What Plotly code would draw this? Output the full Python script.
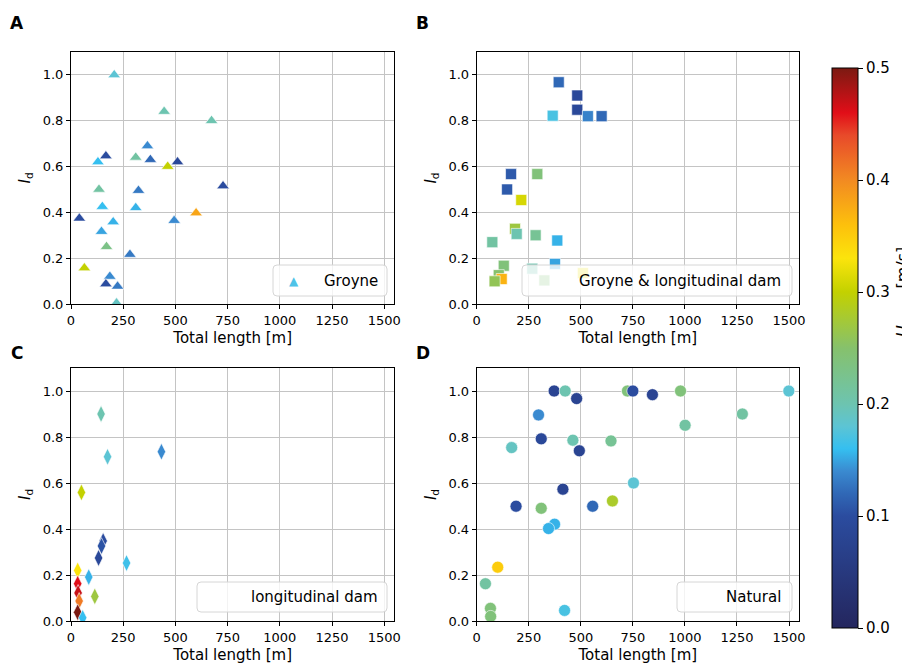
import plotly.graph_objects as go

# ---------------- data ----------------
# Panel A: Groyne
groyne_length = [207, 446, 673, 366, 167, 129, 310, 380, 510, 463, 728, 134, 323, 150, 310,
                 599, 40, 202, 494, 146, 170, 282, 64, 186, 167, 223, 218]
groyne_id = [1.0, 0.84, 0.80, 0.69, 0.646, 0.62, 0.64, 0.63, 0.62, 0.60, 0.515, 0.50, 0.495, 0.425,
             0.42, 0.397, 0.374, 0.358, 0.364, 0.316, 0.25, 0.216, 0.157, 0.12, 0.087, 0.077, 0.004]
groyne_u = [0.18, 0.2, 0.2, 0.14, 0.1, 0.16, 0.21, 0.12, 0.09, 0.3, 0.1, 0.21, 0.13, 0.16, 0.155,
            0.38, 0.1, 0.155, 0.14, 0.15, 0.23, 0.13, 0.3, 0.14, 0.1, 0.13, 0.19]

# Panel B: Groyne & longitudinal dam
gl_length = [394, 483, 483, 365, 534, 600, 165, 291, 146, 214, 184, 192, 283, 387, 75, 376,
             130, 267, 106, 120, 86, 325, 510]
gl_id = [0.968, 0.91, 0.848, 0.822, 0.82, 0.82, 0.567, 0.567, 0.50, 0.454, 0.328, 0.306, 0.30,
         0.277, 0.27, 0.175, 0.167, 0.154, 0.126, 0.109, 0.099, 0.103, 0.135]
gl_u = [0.12, 0.09, 0.09, 0.17, 0.135, 0.12, 0.11, 0.24, 0.11, 0.31, 0.27, 0.2, 0.22, 0.155,
        0.21, 0.15, 0.24, 0.2, 0.25, 0.37, 0.26, 0.24, 0.32]

# Panel C: longitudinal dam
ld_length = [144, 433, 175, 50, 154, 146, 132, 266, 32, 85, 32, 34, 114, 39, 32, 56]
ld_id = [0.90, 0.736, 0.714, 0.559, 0.348, 0.326, 0.274, 0.252, 0.22, 0.191, 0.162, 0.122,
         0.107, 0.087, 0.038, 0.014]
ld_u = [0.2, 0.14, 0.18, 0.3, 0.1, 0.105, 0.09, 0.165, 0.33, 0.155, 0.46, 0.47, 0.27, 0.41,
        0.5, 0.16]

# Panel D: Natural
nat_length = [372, 425, 480, 724, 750, 844, 979, 1499, 297, 1276, 1001, 310, 462, 645, 168,
              493, 753, 414, 652, 189, 310, 557, 374, 345, 101, 42, 66, 67, 422]
nat_id = [1.0, 1.0, 0.967, 1.0, 1.0, 0.984, 1.0, 1.0, 0.896, 0.90, 0.851, 0.792, 0.786, 0.783,
          0.754, 0.74, 0.60, 0.573, 0.522, 0.499, 0.49, 0.499, 0.421, 0.402, 0.234, 0.162,
          0.055, 0.02, 0.046]
nat_u = [0.08, 0.2, 0.08, 0.24, 0.1, 0.08, 0.24, 0.18, 0.14, 0.21, 0.21, 0.09, 0.2, 0.22, 0.19,
         0.08, 0.18, 0.08, 0.28, 0.1, 0.24, 0.12, 0.155, 0.155, 0.35, 0.21, 0.24, 0.24, 0.17]

panel_names = ["Groyne", "Groyne & longitudinal dam", "longitudinal dam", "Natural"]
panel_letters = ["A", "B", "C", "D"]
x_ticks = [0, 250, 500, 750, 1000, 1250, 1500]
y_ticks = [0.0, 0.2, 0.4, 0.6, 0.8, 1.0]
cbar_ticks = [0.0, 0.1, 0.2, 0.3, 0.4, 0.5]
cbar_title = "<i>U</i><sub>mean</sub> [m/s]"

# ---------------- style ----------------
W, H = 910, 666
OFF = 8  # page body margin offset of the figure in the browser window
FONT = "DejaVu Sans"
colorscale = [
    [0.00, "#24265e"], [0.20, "#2b4c9f"], [0.24, "#3068b6"], [0.28, "#3a8ad0"],
    [0.32, "#35bff0"], [0.36, "#5cc4d4"], [0.40, "#6dc4b0"], [0.50, "#86c16c"],
    [0.60, "#c3d100"], [0.66, "#fbe40c"], [0.72, "#fdc00c"], [0.80, "#f28a22"],
    [0.88, "#e84a2a"], [0.92, "#e10e18"], [1.00, "#7b1a12"],
]

def px(x):
    return (x - OFF) / W

def py(y):
    return 1 - (y - OFF) / H

# axes boxes in window pixels: (left, right, top, bottom)
boxes = [(71, 394.3, 52, 304), (476.7, 799, 52, 304),
         (71, 394.3, 368, 621), (476.7, 799, 368, 621)]

fig = go.Figure()
datasets = [(groyne_length, groyne_id, groyne_u, "triangle-up", 11),
            (gl_length, gl_id, gl_u, "square", 11),
            (ld_length, ld_id, ld_u, "diamond-tall", 12),
            (nat_length, nat_id, nat_u, "circle", 12)]

for i, (xs, ys, us, sym, sz) in enumerate(datasets):
    sfx = "" if i == 0 else str(i + 1)
    fig.add_trace(go.Scatter(
        x=xs, y=ys, mode="markers", name=panel_names[i], showlegend=False,
        xaxis="x" + sfx, yaxis="y" + sfx, cliponaxis=True,
        marker=dict(symbol=sym, size=sz, color=us, coloraxis="coloraxis",
                    line=dict(color="white", width=0.6)),
    ))

layout = dict(
    width=W, height=H, margin=dict(l=0, r=0, t=0, b=0, autoexpand=False),
    paper_bgcolor="white", plot_bgcolor="white",
    font=dict(family=FONT, color="black"),
    showlegend=False,
    coloraxis=dict(
        cmin=0, cmax=0.5, colorscale=colorscale,
        colorbar=dict(
            x=px(832), xanchor="left", xpad=0,
            y=py(628), yanchor="bottom", ypad=0,
            len=560, lenmode="pixels", thickness=26, thicknessmode="pixels",
            outlinewidth=1, outlinecolor="black",
            ticks="outside", ticklen=5, tickcolor="black",
            tickvals=cbar_ticks, tickformat=".1f",
            tickfont=dict(family=FONT, size=15, color="black"),
        ),
    ),
)

annotations = []
shapes = []
for i, (l, r, t, b) in enumerate(boxes):
    sfx = "" if i == 0 else str(i + 1)
    layout["xaxis" + sfx] = dict(
        domain=[px(l), px(r)], anchor="y" + sfx, range=[0, 1548],
        tickvals=x_ticks, ticks="outside", ticklen=4, tickcolor="black",
        showline=True, mirror=True, linecolor="black", linewidth=1,
        showgrid=True, gridcolor="#c4c4c4", gridwidth=1, zeroline=False,
        tickfont=dict(family=FONT, size=13, color="black"),
        title=dict(text="Total length [m]", standoff=5,
                   font=dict(family=FONT, size=15, color="black")),
        automargin=False,
    )
    layout["yaxis" + sfx] = dict(
        domain=[py(b), py(t)], anchor="x" + sfx, range=[0, 1.1],
        tickvals=y_ticks, tickformat=".1f", ticks="outside", ticklen=4, tickcolor="black",
        showline=True, mirror=True, linecolor="black", linewidth=1,
        showgrid=True, gridcolor="#c4c4c4", gridwidth=1, zeroline=False,
        tickfont=dict(family=FONT, size=13, color="black"),
        title=dict(text="<i>I</i><sub>d</sub>", standoff=8,
                   font=dict(family=FONT, size=15, color="black")),
        automargin=False,
    )
    # panel letter
    annotations.append(dict(
        text="<b>%s</b>" % panel_letters[i], xref="paper", yref="paper",
        x=px(l - 54), y=py(t - 29) if i < 2 else py(t - 15),
        xanchor="center", yanchor="middle", showarrow=False,
        font=dict(family=FONT, size=17, color="black"),
    ))

# colorbar title (rotated, partly beyond the right edge as in the reference)
annotations.append(dict(
    text=cbar_title, xref="paper", yref="paper", x=px(904), y=py(292),
    xanchor="center", yanchor="middle", textangle=-90, showarrow=False,
    font=dict(family=FONT, size=16, color="black"),
))

# legend boxes (matplotlib-like rounded frames)
legend_boxes = [(273, 387, 265, 296), (522, 792, 265, 296),
                (197, 387, 582, 612), (677, 792, 582, 612)]
legend_text_right = [380, 783, 380, 783]

def rounded_rect(x0, x1, y0, y1, rad=4):
    rx, ry = rad / W, rad / H
    X0, X1, Y0, Y1 = px(x0), px(x1), py(y1), py(y0)
    return (f"M{X0 + rx},{Y0} L{X1 - rx},{Y0} Q{X1},{Y0} {X1},{Y0 + ry} "
            f"L{X1},{Y1 - ry} Q{X1},{Y1} {X1 - rx},{Y1} L{X0 + rx},{Y1} "
            f"Q{X0},{Y1} {X0},{Y1 - ry} L{X0},{Y0 + ry} Q{X0},{Y0} {X0 + rx},{Y0} Z")

for i, (x0, x1, y0, y1) in enumerate(legend_boxes):
    shapes.append(dict(type="path", xref="paper", yref="paper",
                       path=rounded_rect(x0, x1, y0, y1),
                       fillcolor="rgba(255,255,255,0.8)",
                       line=dict(color="#d6d6d6", width=1), layer="above"))
    annotations.append(dict(
        text=panel_names[i], xref="paper", yref="paper",
        x=px(legend_text_right[i]), y=py((y0 + y1) / 2),
        xanchor="right", yanchor="middle", showarrow=False,
        font=dict(family=FONT, size=15, color="black"),
    ))

# legend handle for the Groyne panel
annotations.append(dict(
    text="▲", xref="paper", yref="paper", x=px(293.5), y=py(281),
    xanchor="center", yanchor="middle", showarrow=False,
    font=dict(family=FONT, size=12, color="#4fc3e8"),
))

layout["annotations"] = annotations
layout["shapes"] = shapes
fig.update_layout(**layout)
fig.write_html("out.html")
